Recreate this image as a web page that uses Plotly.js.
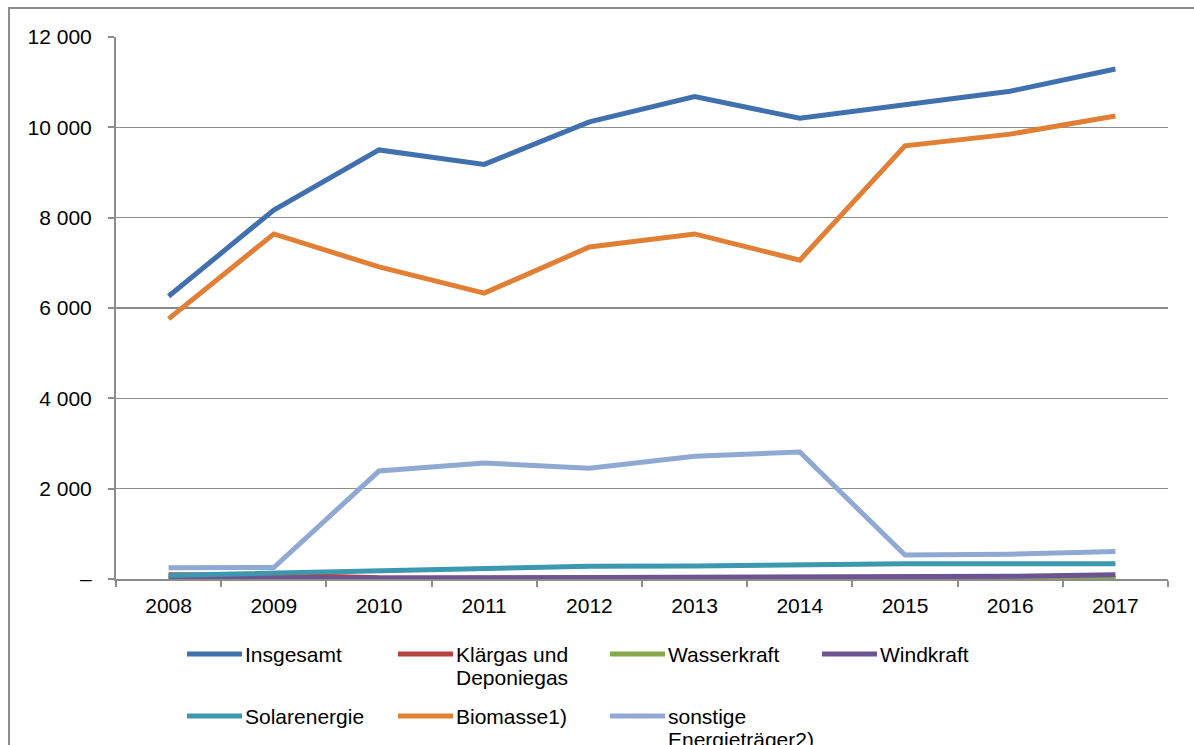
<!DOCTYPE html>
<html>
<head>
<meta charset="utf-8">
<script src="https://cdn.plot.ly/plotly-3.0.1.min.js"></script>
<style>
html,body{margin:0;padding:0;background:#fff;overflow:hidden;}
#chart{width:1194px;height:745px;}
</style>
</head>
<body>
<div id="chart"></div>
<script>
// ---- Data ----
const years = ["2008","2009","2010","2011","2012","2013","2014","2015","2016","2017"];
const insgesamt = [6260, 8170, 9500, 9180, 10120, 10680, 10200, 10510, 10800, 11290];
const klaergas  = [95, 90, 25, 20, 20, 20, 20, 20, 20, 20];
const wasser    = [5, 5, 5, 5, 5, 5, 5, 8, 10, 10];
const wind      = [5, 10, 20, 30, 30, 30, 30, 40, 60, 95];
const solar     = [80, 125, 180, 230, 280, 290, 320, 335, 340, 340];
const biomasse  = [5760, 7640, 6910, 6330, 7350, 7640, 7060, 9590, 9850, 10250];
const sonstige  = [250, 255, 2390, 2570, 2450, 2720, 2810, 530, 550, 610];
const seriesNames = [["Insgesamt"],["Klärgas und","Deponiegas"],["Wasserkraft"],["Windkraft"],["Solarenergie"],["Biomasse1)"],["sonstige","Energieträger2)"]];
const seriesData = [insgesamt, klaergas, wasser, wind, solar, biomasse, sonstige];
const colors = ["#4170AE","#B7433F","#86AA4A","#6C5490","#3C98AF","#E17F35","#8FA9D3"];
const yTickVals = [0, 2000, 4000, 6000, 8000, 10000, 12000];
const yTickText = ["–", "2 000", "4 000", "6 000", "8 000", "10 000", "12 000"];

// ---- Layout geometry (pixels) ----
const W = 1194, H = 745;
const L = 116, R = 26, T = 37, B = 166;
const pw = W - L - R, ph = H - T - B;
const px2x = p => (p - L) / pw;
const py2y = p => (H - B - p) / ph;

const font = {family: "Liberation Sans, Arial, sans-serif", size: 21, color: "#000"};

const traces = seriesData.map((d, i) => ({
  x: years, y: d, type: "scatter", mode: "lines",
  name: seriesNames[i].join(" "),
  line: {color: colors[i], width: 5},
  showlegend: false, hoverinfo: "x+y+name"
}));

// custom legend: 4 columns, 2 rows
const shapes = [];
const annotations = [];
const colX = [187, 398, 610, 822];
const rowY = [654, 716];
const lineGap = 23;
seriesNames.forEach((lines, i) => {
  const c = i % 4, r = Math.floor(i / 4);
  shapes.push({type: "line", xref: "paper", yref: "paper",
    x0: px2x(colX[c]), x1: px2x(colX[c] + 55), y0: py2y(rowY[r]), y1: py2y(rowY[r]),
    line: {color: colors[i], width: 5}});
  lines.forEach((t, k) => {
    annotations.push({xref: "paper", yref: "paper", x: px2x(colX[c] + 56), y: py2y(rowY[r] + k * lineGap),
      xanchor: "left", yanchor: "middle", align: "left", showarrow: false,
      text: t, font: font});
  });
});
// outer frame (left & top edges visible)
shapes.push({type: "line", xref: "paper", yref: "paper", x0: px2x(9), x1: px2x(9), y0: py2y(8), y1: py2y(760),
  line: {color: "#8c8c8c", width: 2}});
shapes.push({type: "line", xref: "paper", yref: "paper", x0: px2x(8), x1: px2x(1210), y0: py2y(8), y1: py2y(8),
  line: {color: "#8c8c8c", width: 2}});

const layout = {
  width: W, height: H,
  margin: {l: L, r: R, t: T, b: B, pad: 0},
  paper_bgcolor: "#fff", plot_bgcolor: "#fff",
  font: font,
  showlegend: false,
  xaxis: {
    type: "category", range: [-0.5, 9.5],
    showline: true, linecolor: "#8c8c8c", linewidth: 2,
    ticks: "outside", tickson: "boundaries", ticklen: 6, tickcolor: "#8c8c8c", tickwidth: 2,
    showgrid: false, zeroline: false, tickfont: font, ticklabelstandoff: 7
  },
  yaxis: {
    range: [0, 12000], tickvals: yTickVals, ticktext: yTickText,
    showline: true, linecolor: "#8c8c8c", linewidth: 2,
    ticks: "outside", ticklen: 6, tickcolor: "#8c8c8c", tickwidth: 2,
    showgrid: true, gridcolor: "#8c8c8c", gridwidth: 1.3, zeroline: false,
    tickfont: font, ticklabelstandoff: 12
  },
  shapes: shapes,
  annotations: annotations
};

Plotly.newPlot("chart", traces, layout, {displayModeBar: false, staticPlot: true});
</script>
</body>
</html>
